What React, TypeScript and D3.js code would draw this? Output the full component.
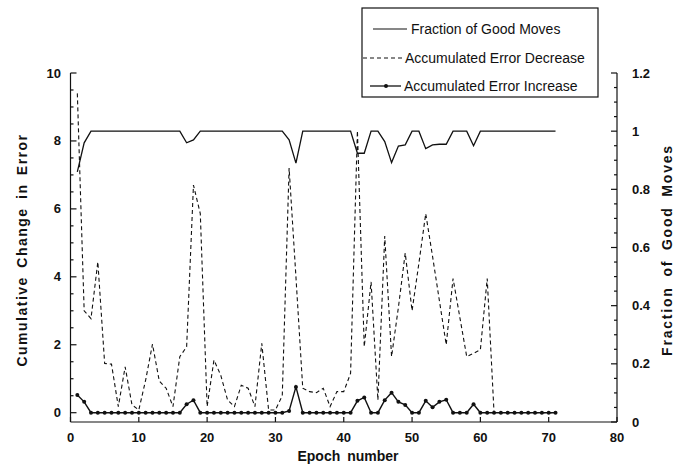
import * as d3 from 'd3';

// epochs 1..71
const epochs = d3.range(1, 72);

const fractionGood = [
  0.86, 0.96, 1, 1, 1, 1, 1, 1, 1, 1, 1, 1, 1, 1, 1, 1,
  0.96, 0.97, 1, 1, 1, 1, 1, 1, 1, 1, 1, 1, 1, 1, 1,
  0.97, 0.89, 1, 1, 1, 1, 1, 1, 1, 1,
  0.924, 0.924, 1, 1, 0.964, 0.892, 0.949, 0.953, 1, 1,
  0.94, 0.953, 0.955, 0.955, 1, 1, 1, 0.95,
  1, 1, 1, 1, 1, 1, 1, 1, 1, 1, 1, 1,
];

const errorDecrease = [
  9.4, 3.0, 2.77, 4.44, 1.45, 1.43, 0.18, 1.35, 0.23, 0.08,
  0.96, 2.02, 0.93, 0.72, 0.18, 1.65, 1.94, 6.7, 5.86, 0.18,
  1.55, 1.1, 0.37, 0.18, 0.81, 0.72, 0.18, 2.04, 0.08, 0.08,
  0.5, 7.2, 4.0, 0.72, 0.62, 0.59, 0.72, 0.18, 0.62, 0.62,
  1.16, 8.3, 1.94, 3.85, 0.37, 5.2, 1.65, 3.1, 4.7, 3.0,
  4.4, 5.86, 4.6, 3.3, 2.0, 3.95, 2.8, 1.65, 1.75, 1.85,
  3.95, 0, 0, 0, 0, 0, 0, 0, 0, 0, 0,
];

const errorIncrease = [
  0.52, 0.32, 0, 0, 0, 0, 0, 0, 0, 0, 0, 0, 0, 0, 0, 0,
  0.25, 0.37, 0, 0, 0, 0, 0, 0, 0, 0, 0, 0, 0, 0, 0,
  0.05, 0.76, 0, 0, 0, 0, 0, 0, 0, 0,
  0.35, 0.45, 0, 0, 0.37, 0.59, 0.32, 0.23, 0, 0,
  0.35, 0.16, 0.32, 0.38, 0, 0, 0, 0.25,
  0, 0, 0, 0, 0, 0, 0, 0, 0, 0, 0, 0,
];

const xTicks = [0, 10, 20, 30, 40, 50, 60, 70, 80];
const leftTicks = [0, 2, 4, 6, 8, 10];
const rightTicks = [0, 0.2, 0.4, 0.6, 0.8, 1, 1.2];

const legendLabels = ['Fraction of Good Moves', 'Accumulated Error Decrease', 'Accumulated Error Increase'];

const FONT = '"Liberation Sans", Arial, Helvetica, sans-serif';
const INK = '#111';

export default function App() {
  const width = 678;
  const height = 467;

  const x = d3.scaleLinear().domain([0, 80]).range([70.5, 617]);
  const yL = d3.scaleLinear().domain([0, 10]).range([412.7, 73]);
  const yR = d3.scaleLinear().domain([0, 1.2]).range([422, 73]);
  const bottom = 422;

  const fracLine = d3.line<number>()
    .x((_, i) => x(epochs[i]))
    .y(d => yR(d));
  const errLine = d3.line<number>()
    .x((_, i) => x(epochs[i]))
    .y(d => yL(d));

  const leftMinor = d3.range(0, 10.01, 0.5);
  const rightMinor = d3.range(0, 1.201, 0.05);

  const legendRows = [29, 58, 86];

  return (
    <svg width={width} height={height} style={{ position: 'absolute', left: 0, top: 0, background: '#fff' }}
      fontFamily={FONT}>
      <rect width={width} height={height} fill="#fff" />

      {/* axes */}
      <g stroke={INK} strokeWidth={1.2} fill="none">
        <line x1={x(0)} x2={x(0)} y1={73} y2={bottom} />
        <line x1={x(80)} x2={x(80)} y1={73} y2={bottom} />
        <line x1={x(0)} x2={x(80)} y1={bottom} y2={bottom} />
        {leftMinor.map(v => (
          <line key={'lm' + v} x1={x(0)} x2={x(0) + (v % 2 === 0 ? 6 : 3)} y1={yL(v)} y2={yL(v)} />
        ))}
        {rightMinor.map(v => {
          const major = Math.abs(Math.round(v * 5) - v * 5) < 1e-6;
          return <line key={'rm' + v} x1={x(80)} x2={x(80) - (major ? 6 : 3)} y1={yR(v)} y2={yR(v)} />;
        })}
        {xTicks.map(t => (
          <line key={'xt' + t} x1={x(t)} x2={x(t)} y1={bottom} y2={bottom - 5} />
        ))}
      </g>

      {/* tick labels */}
      <g fontSize={13} fontWeight="bold" fill={INK}>
        {leftTicks.map(t => (
          <text key={'lt' + t} x={61} y={yL(t)} dy="0.35em" textAnchor="end">{t}</text>
        ))}
        {rightTicks.map(t => (
          <text key={'rt' + t} x={632} y={yR(t)} dy="0.35em" textAnchor="start">{t}</text>
        ))}
        {xTicks.map(t => (
          <text key={'xl' + t} x={x(t)} y={442} textAnchor="middle">{t}</text>
        ))}
      </g>

      {/* axis titles */}
      <g fontSize={14} fontWeight="bold" fill={INK}>
        <text x={348} y={461} textAnchor="middle" wordSpacing={3}>Epoch number</text>
        <text transform="translate(27,250) rotate(-90)" textAnchor="middle" letterSpacing={1.5} wordSpacing={3}>
          Cumulative Change in Error
        </text>
        <text transform="translate(672,250) rotate(-90)" textAnchor="middle" letterSpacing={1.8} wordSpacing={4}>
          Fraction of Good Moves
        </text>
      </g>

      {/* series */}
      <path d={errLine(errorDecrease) ?? ''} fill="none" stroke={INK} strokeWidth={1.1} strokeDasharray="4,3" />
      <path d={fracLine(fractionGood) ?? ''} fill="none" stroke={INK} strokeWidth={1.3} />
      <path d={errLine(errorIncrease) ?? ''} fill="none" stroke={INK} strokeWidth={1.4} />
      {errorIncrease.map((v, i) => (
        <circle key={'m' + i} cx={x(epochs[i])} cy={yL(v)} r={2} fill={INK} />
      ))}

      {/* legend */}
      <rect x={362} y={8} width={236} height={89} fill="#fff" stroke={INK} strokeWidth={1.2} />
      <line x1={373} x2={407} y1={legendRows[0]} y2={legendRows[0]} stroke={INK} strokeWidth={1.2} />
      <line x1={363} x2={403} y1={legendRows[1]} y2={legendRows[1]} stroke={INK} strokeWidth={1.1} strokeDasharray="4,3" />
      <line x1={370} x2={401} y1={legendRows[2]} y2={legendRows[2]} stroke={INK} strokeWidth={1.3} />
      <circle cx={386} cy={legendRows[2]} r={2} fill={INK} />
      <g fontSize={14} fill={INK}>
        <text x={411} y={legendRows[0]} dy="0.35em">{legendLabels[0]}</text>
        <text x={405} y={legendRows[1]} dy="0.35em">{legendLabels[1]}</text>
        <text x={404} y={legendRows[2]} dy="0.35em">{legendLabels[2]}</text>
      </g>
    </svg>
  );
}
